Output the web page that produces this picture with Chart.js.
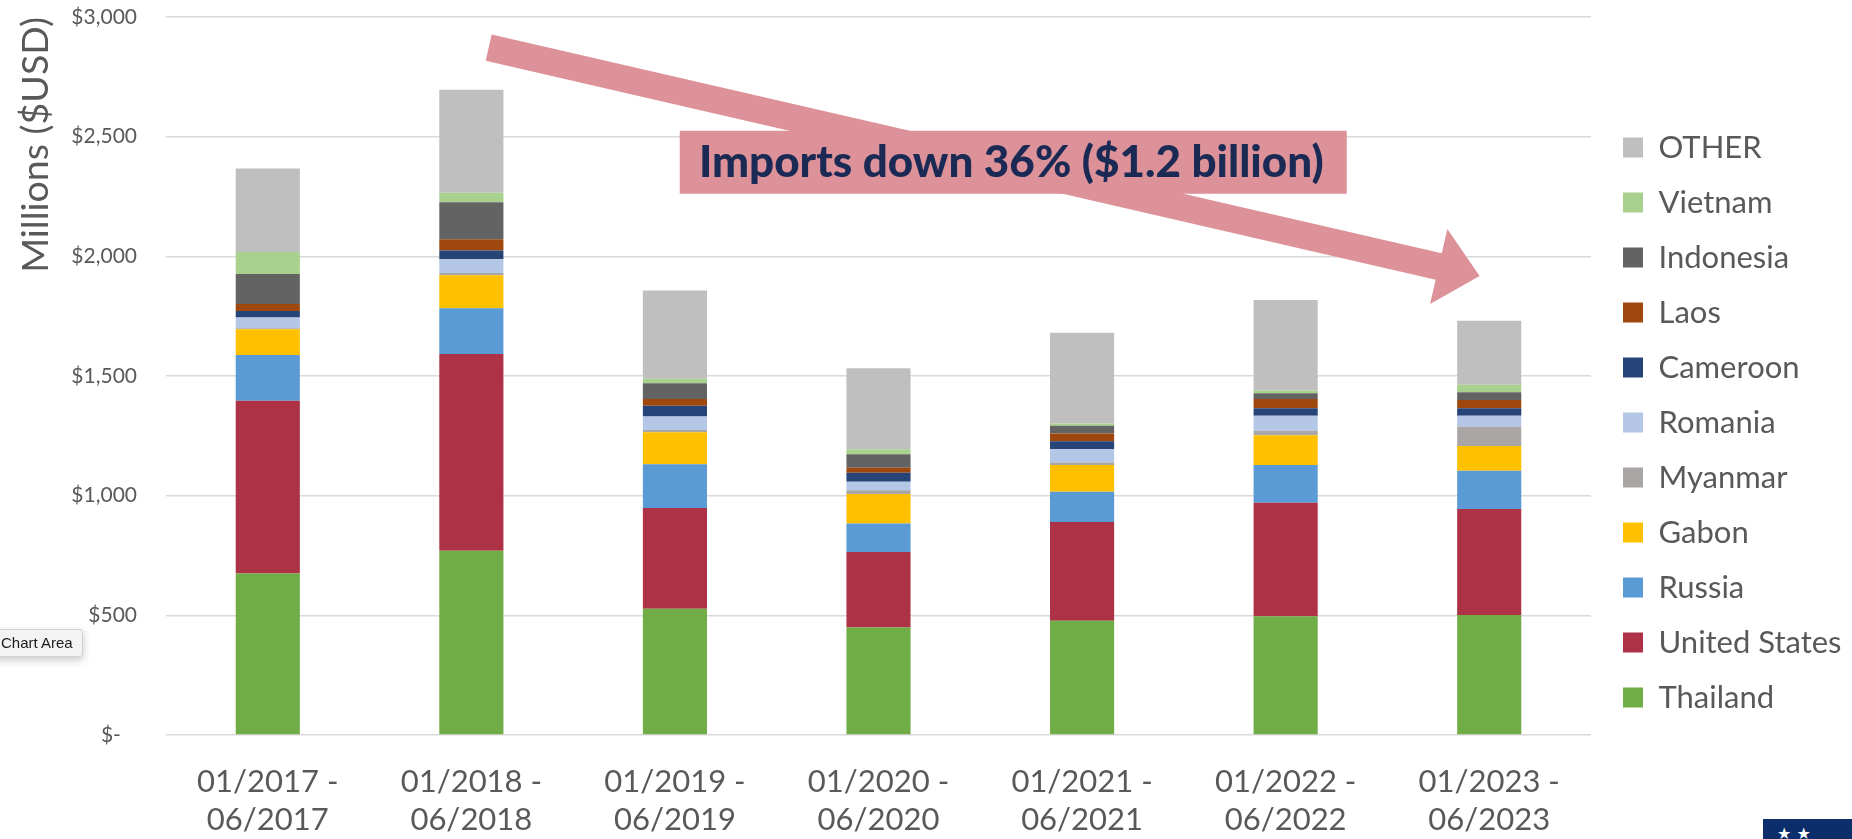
<!DOCTYPE html>
<html><head><meta charset="utf-8">
<script src="https://cdn.jsdelivr.net/npm/chart.js@4/dist/chart.umd.min.js"></script>
<style>
html,body{margin:0;padding:0;background:#fff;overflow:hidden}
#wrap{position:relative;width:1852px;height:839px}
canvas{display:block}
#tip{position:absolute;left:-9px;top:629px;height:26px;padding:0 9px;background:#f3f3f3;border:1px solid #d2d2d2;border-radius:3px;box-shadow:0 3px 8px rgba(0,0,0,0.22);font:15px "Liberation Sans",Arial,sans-serif;line-height:26px;color:#1a1a1a}
#logo{position:absolute;left:1763px;top:819px;width:89px;height:20px;background:#0c2f6b;color:#fff;font:16px "DejaVu Sans";overflow:hidden;white-space:nowrap;padding-left:14px;box-sizing:border-box;line-height:30px}
</style>
</head><body>
<div id="wrap">
<canvas id="c" width="1852" height="839"></canvas>
<div id="tip">Chart Area</div>
<div id="logo">★ ★</div>
</div>
<script>
// ---- data ----
const categories = [
  ['01/2017 -', '06/2017'],
  ['01/2018 -', '06/2018'],
  ['01/2019 -', '06/2019'],
  ['01/2020 -', '06/2020'],
  ['01/2021 -', '06/2021'],
  ['01/2022 -', '06/2022'],
  ['01/2023 -', '06/2023']
];
const seriesNames = ['Thailand','United States','Russia','Gabon','Myanmar','Romania','Cameroon','Laos','Indonesia','Vietnam','OTHER'];
const thailand     = [675, 770, 527, 449, 477, 496, 501];
const unitedStates = [722, 822, 421, 316, 413, 474, 443];
const russia       = [191, 191, 183, 119, 126, 158, 160];
const gabon        = [107, 138, 134, 123, 112, 124, 103];
const myanmar      = [5, 9, 9, 16, 11, 19, 81];
const romania      = [44, 58, 57, 35, 55, 63, 46];
const cameroon     = [28, 36, 45, 38, 33, 31, 31];
const laos         = [29, 47, 28, 21, 33, 39, 35];
const indonesia    = [125, 155, 66, 56, 32, 24, 32];
const vietnam      = [92, 40, 18, 21, 10, 11, 31];
const other        = [349, 430, 369, 338, 379, 379, 268];
const yTickLabels  = ['$-   ', '$500', '$1,000', '$1,500', '$2,000', '$2,500', '$3,000'];
const annotationText = 'Imports down 36% ($1.2 billion)';
const yAxisTitle = 'Millions ($USD)';

// ---- styles ----
const seriesValues = [thailand, unitedStates, russia, gabon, myanmar, romania, cameroon, laos, indonesia, vietnam, other];
const seriesColors = ['#70AD47','#AD3246','#5B9BD5','#FFC000','#A9A6A5','#B4C7E7','#264478','#9E480E','#636363','#A9D18E','#BFBFBF'];
const FONT = 'Lato, "Open Sans", sans-serif';
const TXT = '#595959';

// annotation anchors in data space (category index, value)
const arrowFrom = [1.085, 2872];
const arrowTo = [5.953, 1918];
const boxCenter = [3.662, 2393];

const datasets = seriesNames.map((n, i) => ({
  label: n,
  data: seriesValues[i],
  backgroundColor: seriesColors[i],
  borderWidth: 0,
  categoryPercentage: 1.0,
  barPercentage: 0.315
}));

const legendFix = {
  id: 'legendFix',
  beforeLayout(chart) {
    const lg = chart.legend;
    if (lg && !lg._patched) {
      const orig = lg.fit.bind(lg);
      lg.fit = function () { orig(); this.width = 261; };
      lg._patched = true;
    }
  },
  afterLayout(chart) {
    const lg = chart.legend;
    const shiftX = 8;
    lg.left += shiftX; lg.right += shiftX;
    const h = lg.bottom - lg.top;
    lg.top = 108; lg.bottom = lg.top + h;
  }
};

const annot = {
  id: 'annot',
  afterDatasetsDraw(chart) {
    const ctx = chart.ctx, xs = chart.scales.x, ys = chart.scales.y;
    const px = p => [xs.getPixelForValue(p[0]), ys.getPixelForValue(p[1])];
    const S = px(arrowFrom), T = px(arrowTo);
    const dx = T[0] - S[0], dy = T[1] - S[1], L = Math.hypot(dx, dy);
    const d = [dx / L, dy / L], n = [-d[1], d[0]];
    const hw = 13.5, hl = 42, hh = 38.5;
    const B = [T[0] - d[0] * hl, T[1] - d[1] * hl];
    const P = (b, k) => [b[0] + n[0] * k, b[1] + n[1] * k];
    const pts = [P(S, hw), P(B, hw), P(B, hh), T, P(B, -hh), P(B, -hw), P(S, -hw)];
    ctx.save();
    ctx.fillStyle = '#DC9298';
    ctx.beginPath();
    pts.forEach((p, i) => i ? ctx.lineTo(p[0], p[1]) : ctx.moveTo(p[0], p[1]));
    ctx.closePath(); ctx.fill();
    const C = px(boxCenter);
    const bw = 667, bh = 63;
    ctx.fillRect(C[0] - bw / 2, C[1] - bh / 2, bw, bh);
    ctx.fillStyle = '#1B2A55';
    ctx.font = '900 44px ' + FONT;
    ctx.textAlign = 'center'; ctx.textBaseline = 'middle';
    ctx.fillText(annotationText, C[0] - 2, C[1] + 1);
    ctx.restore();
  }
};

new Chart(document.getElementById('c'), {
  type: 'bar',
  data: { labels: categories, datasets },
  options: {
    responsive: false,
    animation: false,
    devicePixelRatio: 1,
    events: [],
    layout: { padding: { top: 17, left: 0, right: 0, bottom: 0 } },
    plugins: {
      tooltip: { enabled: false },
      legend: {
        position: 'right',
        align: 'start',
        reverse: true,
        labels: {
          boxWidth: 20, boxHeight: 20, padding: 24,
          color: TXT,
          font: { family: FONT, size: 31 }
        }
      }
    },
    scales: {
      x: {
        stacked: true,
        grid: { display: false, drawTicks: false },
        border: { display: false },
        ticks: { color: TXT, font: { family: FONT, size: 31, lineHeight: 1.22 }, padding: 28, maxRotation: 0, autoSkip: false },
        afterFit: s => { s.height = 104; s.paddingLeft = 0; s.paddingRight = 0; s.paddingTop = 0; s.paddingBottom = 0; }
      },
      y: {
        stacked: true,
        min: 0, max: 3000,
        grid: { color: '#D9D9D9', lineWidth: 1.5, drawTicks: false },
        border: { display: false },
        ticks: {
          stepSize: 500, padding: 29, color: TXT,
          font: { family: FONT, size: 21 },
          callback: v => yTickLabels[Math.round(v / 500)]
        },
        title: {
          display: true, text: yAxisTitle, align: 'end', color: TXT,
          font: { family: FONT, size: 37.5 }, padding: { top: 13, bottom: 0 }
        },
        afterFit: s => { s.width = 166; s.paddingTop = 0; s.paddingBottom = 0; s.paddingLeft = 0; s.paddingRight = 0; }
      }
    }
  },
  plugins: [legendFix, annot]
});
</script>
</body></html>
